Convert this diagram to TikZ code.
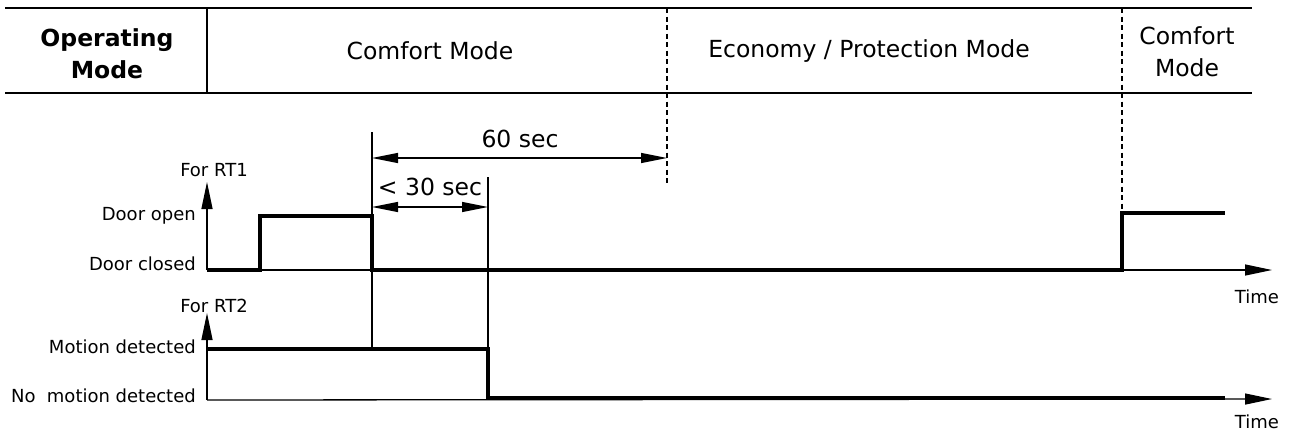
\documentclass[tikz,border=0pt]{standalone}
\usepackage{fontspec}
\setmainfont{DejaVu Sans}
\usetikzlibrary{arrows.meta}
\begin{document}
\begin{tikzpicture}[x=1pt,y=-1pt,
  thinline/.style={line width=1.3pt},
  sig/.style={line width=3.6pt, line join=miter},
  rule/.style={line width=1.8pt},
  dashline/.style={line width=1.2pt, dash pattern=on 5pt off 3.5pt},
  dimarrow/.style={line width=1.3pt, {Triangle[length=26pt,width=10pt]}-{Triangle[length=26pt,width=10pt]}},
  axarrow/.style={line width=1.3pt, -{Triangle[length=27pt,width=11pt]}},
  lbl/.style={font=\fontsize{18}{22}\selectfont, inner sep=0pt},
  hdr/.style={font=\fontsize{23.5}{32}\selectfont, align=center, inner sep=0pt},
]
\useasboundingbox (0,0) rectangle (1290,432);

% header table
\coordinate (tl) at (5,8);   \coordinate (tr) at (1252,8);
\coordinate (bl) at (5,93);  \coordinate (br) at (1252,93);
\coordinate (s1t) at (207,8); \coordinate (s1b) at (207,93);
\draw[rule] (tl) -- (tr);
\draw[rule] (bl) -- (br);
\draw[thinline] (s1t) -- (s1b);
\coordinate (d1t) at (667,8);  \coordinate (d1b) at (667,183);
\coordinate (d2t) at (1122,8); \coordinate (d2b) at (1122,213);
\draw[dashline] (d1t) -- (d1b);
\draw[dashline] (d2t) -- (d2b);

\node[hdr, font=\fontsize{23.5}{32}\selectfont\bfseries] (opmode) at (107,54) {Operating\\Mode};
\node[hdr] (comf1) at (430,51) {Comfort Mode};
\node[hdr] (eco) at (869,51) {Economy / Protection Mode};
\node[hdr] (comf2) at (1187,52) {Comfort\\Mode};

% RT1 axes
\coordinate (o1) at (207,270);
\coordinate (y1) at (207,182);
\coordinate (x1) at (1272,270);
\draw[axarrow] (o1) -- (y1);
\draw[axarrow] (o1) -- (x1);
\node[lbl] (rt1) at (214,170) {For RT1};
\node[lbl, anchor=east] (dopen) at (196,216) {Door open};
\node[lbl, anchor=east] (dclosed) at (196,264) {Door closed};
\node[lbl] (time1) at (1257,297) {Time};

% RT1 signal
\coordinate (a1) at (260,270); \coordinate (a2) at (260,216);
\coordinate (a3) at (372,216); \coordinate (a4) at (372,270);
\coordinate (a5) at (1122,270); \coordinate (a6) at (1122,213);
\coordinate (a7) at (1225,213);
\draw[sig] (o1) -- (a1) -- (a2) -- (a3) -- (a4) -- (a5) -- (a6) -- (a7);

% RT2 axes
\coordinate (o2) at (207,400);
\coordinate (y2) at (207,313);
\coordinate (x2) at (1272,399);
\draw[axarrow] (o2) -- (y2);
\draw[axarrow] (o2) -- (x2);
\node[lbl] (rt2) at (214,306) {For RT2};
\node[lbl, anchor=east] (mot) at (196,347) {Motion detected};
\node[lbl, anchor=east] (nomot) at (196,396) {No\ \ motion detected};
\node[lbl] (time2) at (1257,422) {Time};

% RT2 signal
\coordinate (b0) at (207,349); \coordinate (b1) at (488,349);
\coordinate (b2) at (488,398); \coordinate (b3) at (1225,398);
\draw[sig] (b0) -- (b1) -- (b2) -- (b3);

% marker lines
\coordinate (m1t) at (372,132); \coordinate (m1b) at (372,349);
\coordinate (m2t) at (488,177); \coordinate (m2b) at (488,400);
\draw[thinline] (m1t) -- (m1b);
\draw[thinline] (m2t) -- (m2b);

% dimensions
\coordinate (p60a) at (372,158); \coordinate (p60b) at (667,158);
\coordinate (p30a) at (372,207); \coordinate (p30b) at (488,207);
\draw[dimarrow] (p60a) -- (p60b);
\draw[dimarrow] (p30a) -- (p30b);
\node[hdr] (t60) at (520,139) {60 sec};
\node[hdr] (t30) at (430,187) {< 30 sec};
\end{tikzpicture}
\end{document}
